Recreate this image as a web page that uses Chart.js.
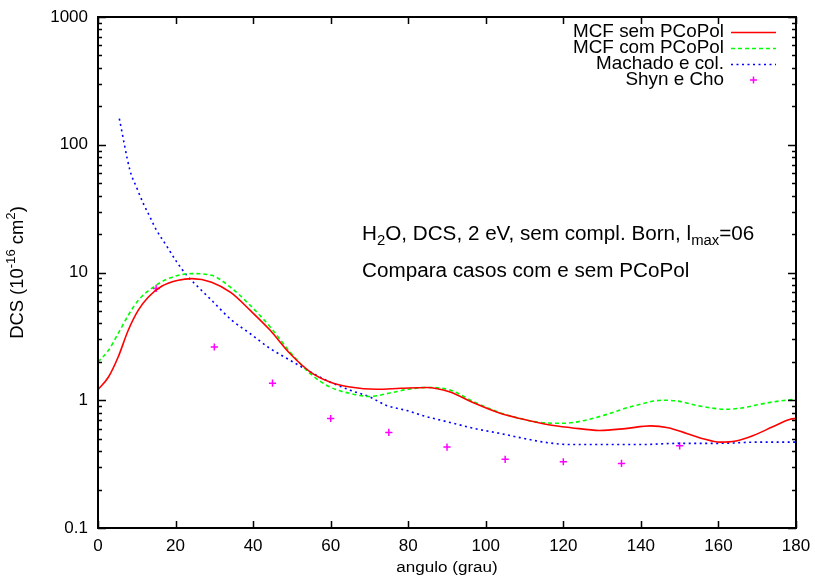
<!DOCTYPE html>
<html>
<head>
<meta charset="utf-8">
<script src="https://cdn.jsdelivr.net/npm/chart.js@4.4.0/dist/chart.umd.min.js"></script>
<style>
  html, body { margin: 0; padding: 0; background: #fff; }
  #wrap { width: 815px; height: 579px; }
</style>
</head>
<body>
<div id="wrap"><canvas id="c" width="815" height="579"></canvas></div>
<script>
// values
const semX = [0, 2.7, 5.2, 7.8, 10.4, 13, 16.4, 20.7, 24.2, 29.3, 34.3, 39.2, 44.4, 49.5, 54.7, 59.8, 65, 71.9, 78, 84.8, 90.8, 97, 103.7, 108.8, 116.6, 122, 129.4, 136, 142.5, 147, 151.8, 156, 160.4, 164.5, 169, 174, 178.5, 180];
const semY = [1.21, 1.52, 2.18, 3.53, 5.07, 6.43, 7.8, 8.7, 8.95, 8.4, 6.95, 5.07, 3.53, 2.32, 1.67, 1.39, 1.27, 1.22, 1.24, 1.26, 1.16, 0.95, 0.79, 0.72, 0.64, 0.61, 0.58, 0.6, 0.63, 0.61, 0.55, 0.5, 0.47, 0.48, 0.53, 0.62, 0.71, 0.72];

const comX = [0, 2.7, 5.2, 7.8, 10.4, 13.8, 18.1, 24.2, 29.3, 34.3, 39.2, 44.4, 49.5, 54.7, 59.8, 65, 70.1, 75.3, 80, 84.8, 90.8, 97, 103.7, 108.8, 114, 120, 125, 130.3, 138, 145.8, 150, 154.4, 162.1, 166, 170.7, 175, 178.5, 180];
const comY = [1.99, 2.46, 3.33, 4.63, 6.06, 7.5, 8.95, 9.8, 9.5, 7.6, 5.55, 3.75, 2.39, 1.62, 1.27, 1.13, 1.07, 1.14, 1.22, 1.26, 1.2, 0.97, 0.8, 0.72, 0.67, 0.66, 0.69, 0.76, 0.9, 1.0, 0.98, 0.91, 0.85, 0.87, 0.93, 0.98, 1.01, 1.02];

const machX = [5.5, 8.25, 10, 11.7, 13.4, 15.1, 17.5, 20.3, 22.9, 26, 29.3, 34.5, 39.2, 44.4, 49.5, 54.7, 59.8, 65, 70.1, 74.4, 79.7, 84.3, 90.8, 97.2, 103.7, 108.8, 115, 121.7, 130, 140, 150, 160, 170, 180];
const machY = [160, 63, 46, 34.6, 27.2, 21.4, 16.5, 12.1, 9.5, 7.6, 6.06, 4.23, 3.33, 2.54, 2.06, 1.67, 1.39, 1.2, 1.06, 0.91, 0.83, 0.75, 0.67, 0.6, 0.55, 0.51, 0.47, 0.45, 0.45, 0.45, 0.46, 0.46, 0.47, 0.47];

const shynX = [15, 30, 45, 60, 75, 90, 105, 120, 135, 150];
const shynY = [7.5, 2.61, 1.36, 0.72, 0.56, 0.43, 0.345, 0.33, 0.32, 0.44];

const xTicks = [0, 20, 40, 60, 80, 100, 120, 140, 160, 180];
const yTicks = [0.1, 1, 10, 100, 1000];

const seriesNames = ['MCF sem PCoPol', 'MCF com PCoPol', 'Machado e col.', 'Shyn e Cho'];

const FONT = '"Liberation Sans", Arial, Helvetica, sans-serif';

function pts(xs, ys) {
    return xs.map((x, i) => ({ x: x, y: ys[i] }));
}

// draw text made of parts (normal / sub / sup), sx = horizontal stretch
function richText(ctx, parts, x, y, size, align, sx) {
    const small = size * 0.72;
    let w = 0;
    parts.forEach(p => {
        ctx.font = (p.s ? small : size) + 'px ' + FONT;
        w += ctx.measureText(p.t).width * sx;
    });
    let cx = align === 'right' ? x - w : (align === 'center' ? x - w / 2 : x);
    ctx.textBaseline = 'middle';
    ctx.textAlign = 'left';
    parts.forEach(p => {
        ctx.font = (p.s ? small : size) + 'px ' + FONT;
        let dy = 0;
        if (p.s === 'sub') dy = size * 0.3;
        if (p.s === 'sup') dy = -size * 0.38;
        ctx.save();
        ctx.translate(cx, y + dy);
        ctx.scale(sx, 1);
        ctx.fillText(p.t, 0, 0);
        ctx.restore();
        cx += ctx.measureText(p.t).width * sx;
    });
}

const gnuplotDecor = {
    id: 'gnuplotDecor',
    afterDraw(chart) {
        const ctx = chart.ctx;
        const a = chart.chartArea;
        const xs = chart.scales.x, ys = chart.scales.y;
        ctx.save();
        ctx.strokeStyle = '#000';
        ctx.fillStyle = '#000';

        // inward ticks on all four sides
        ctx.lineWidth = 1.5;
        ctx.beginPath();
        xTicks.forEach(v => {
            const px = Math.round(xs.getPixelForValue(v)) + 0.5;
            ctx.moveTo(px, a.bottom); ctx.lineTo(px, a.bottom - 7);
            ctx.moveTo(px, a.top); ctx.lineTo(px, a.top + 7);
        });
        yTicks.forEach((d, i) => {
            const py = Math.round(ys.getPixelForValue(d)) + 0.5;
            ctx.moveTo(a.left, py); ctx.lineTo(a.left + 8, py);
            ctx.moveTo(a.right, py); ctx.lineTo(a.right - 8, py);
            if (i < yTicks.length - 1) {
                for (let k = 2; k <= 9; k++) {
                    const pm = Math.round(ys.getPixelForValue(d * k)) + 0.5;
                    ctx.moveTo(a.left, pm); ctx.lineTo(a.left + 4, pm);
                    ctx.moveTo(a.right, pm); ctx.lineTo(a.right - 4, pm);
                }
            }
        });
        ctx.stroke();

        // frame
        ctx.lineWidth = 2;
        ctx.strokeRect(a.left, a.top, a.right - a.left, a.bottom - a.top);

        // legend, gnuplot style (text right aligned, sample on the right)
        const colors = ['#ff0000', '#00ff00', '#0000ff', '#ff00ff'];
        const dashes = [[], [4, 3], [2, 3.5], null];
        seriesNames.forEach((name, i) => {
            const y = 32 + i * 16;
            ctx.fillStyle = '#000';
            richText(ctx, [{ t: name }], 724, y, 18.5, 'right', 1.02);
            ctx.strokeStyle = colors[i];
            ctx.lineWidth = 1.5;
            ctx.beginPath();
            if (dashes[i]) {
                ctx.setLineDash(dashes[i]);
                ctx.moveTo(731, y + 0.5); ctx.lineTo(776, y + 0.5);
            } else {
                ctx.setLineDash([]);
                ctx.moveTo(750, y); ctx.lineTo(757, y);
                ctx.moveTo(753.5, y - 3.5); ctx.lineTo(753.5, y + 3.5);
            }
            ctx.stroke();
        });
        ctx.setLineDash([]);

        // annotations
        ctx.fillStyle = '#000';
        richText(ctx, [
            { t: 'H' }, { t: '2', s: 'sub' }, { t: 'O, DCS, 2 eV, sem compl. Born, l' },
            { t: 'max', s: 'sub' }, { t: '=06' }
        ], 362, 235, 19.5, 'left', 1.06);
        richText(ctx, [{ t: 'Compara casos com e sem PCoPol' }], 362, 272, 19.5, 'left', 1.06);

        // axis titles
        richText(ctx, [{ t: 'angulo (grau)' }], (a.left + a.right) / 2, 568, 15.5, 'center', 1.1);
        ctx.save();
        ctx.translate(18, (a.top + a.bottom) / 2);
        ctx.rotate(-Math.PI / 2);
        richText(ctx, [
            { t: 'DCS (10' }, { t: '-16', s: 'sup' }, { t: ' cm' }, { t: '2', s: 'sup' }, { t: ')' }
        ], 0, 0, 17.5, 'center', 1.05);
        ctx.restore();

        ctx.restore();
    }
};

// keep the plot frame where the layout padding puts it
function fixBox(s, size) {
    if (s.isHorizontal()) s.height = size; else s.width = size;
    s.paddingTop = 0; s.paddingBottom = 0; s.paddingLeft = 0; s.paddingRight = 0;
}

const lineDefaults = {
    pointRadius: 0,
    borderWidth: 1.6,
    fill: false,
    cubicInterpolationMode: 'monotone'
};

new Chart(document.getElementById('c'), {
    type: 'line',
    data: {
        datasets: [
            Object.assign({ label: seriesNames[0], data: pts(semX, semY), borderColor: '#ff0000' }, lineDefaults),
            Object.assign({ label: seriesNames[1], data: pts(comX, comY), borderColor: '#00ff00', borderDash: [4, 3] }, lineDefaults),
            Object.assign({ label: seriesNames[2], data: pts(machX, machY), borderColor: '#0000ff', borderDash: [2, 3.5] }, lineDefaults),
            {
                label: seriesNames[3],
                data: pts(shynX, shynY),
                showLine: false,
                pointStyle: 'cross',
                pointRadius: 3.6,
                pointBorderWidth: 1.5,
                borderColor: '#ff00ff',
                backgroundColor: '#ff00ff'
            }
        ]
    },
    options: {
        responsive: false,
        animation: false,
        devicePixelRatio: 1,
        layout: { padding: { top: 17, right: 19, left: 0, bottom: 0 } },
        scales: {
            x: {
                type: 'linear',
                min: 0,
                max: 180,
                afterBuildTicks: s => { s.ticks = xTicks.map(v => ({ value: v })); },
                afterFit: s => fixBox(s, 51),
                ticks: { color: '#000', font: { family: FONT, size: 17 }, padding: 8, maxRotation: 0 },
                grid: { display: false, drawTicks: false },
                border: { display: false }
            },
            y: {
                type: 'logarithmic',
                min: 0.1,
                max: 1000,
                afterBuildTicks: s => { s.ticks = yTicks.map(v => ({ value: v })); },
                afterFit: s => fixBox(s, 98),
                ticks: { color: '#000', font: { family: FONT, size: 17 }, padding: 10, callback: v => String(v) },
                grid: { display: false, drawTicks: false },
                border: { display: false }
            }
        },
        plugins: {
            legend: { display: false },
            tooltip: { enabled: false }
        }
    },
    plugins: [gnuplotDecor]
});
</script>
</body>
</html>
